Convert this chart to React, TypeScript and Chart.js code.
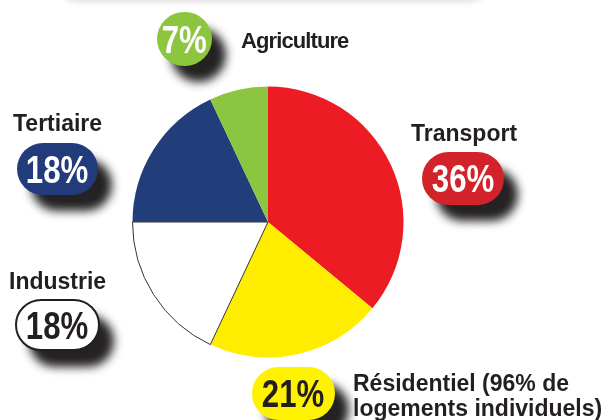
import React, { useEffect, useRef } from "react";
import { Chart, registerables } from "chart.js";

Chart.register(...registerables);

const categories = ["Transport", "Résidentiel (96% de logements individuels)", "Industrie", "Tertiaire", "Agriculture"];
const shares = [36, 21, 18, 18, 7];
const sliceColors = ["#ED1C24", "#FFED00", "#FFFFFF", "#213D7A", "#8CC540"];
const percentLabels = ["36%", "21%", "18%", "18%", "7%"];

const sans = '"Liberation Sans", Arial, Helvetica, sans-serif';

type BadgeProps = { left: number; top: number; w: number; h: number; bg: string; color: string; border?: string; text: string };

function Badge({ left, top, w, h, bg, color, border, text }: BadgeProps) {
  return (
    <div
      style={{
        position: "absolute",
        left,
        top,
        width: w,
        height: h,
        boxSizing: "border-box",
        borderRadius: h / 2,
        background: bg,
        border: border || "none",
        boxShadow: "14px 16px 10px rgba(25,22,23,0.95)",
        display: "flex",
        alignItems: "center",
        justifyContent: "center",
        color,
      }}
    >
      <span
        style={{
          display: "inline-block",
          fontFamily: sans,
          fontWeight: 700,
          fontSize: 39,
          lineHeight: 1,
          transform: "scaleX(0.8)",
          whiteSpace: "nowrap",
        }}
      >
        {text}
      </span>
    </div>
  );
}

function Label({ left, top, size, spacing, children }: { left: number; top: number; size: number; spacing?: number; children: React.ReactNode }) {
  return (
    <div
      style={{
        position: "absolute",
        left,
        top,
        fontFamily: sans,
        fontWeight: 700,
        fontSize: size,
        letterSpacing: spacing || 0,
        lineHeight: "25px",
        color: "#231F20",
        whiteSpace: "nowrap",
      }}
    >
      {children}
    </div>
  );
}

export default function App() {
  const ref = useRef<HTMLCanvasElement | null>(null);

  useEffect(() => {
    if (!ref.current) return;
    const chart = new Chart(ref.current, {
      type: "pie",
      data: {
        labels: categories,
        datasets: [
          {
            data: shares,
            backgroundColor: sliceColors,
            borderColor: ["#ED1C24", "#FFED00", "#333333", "#213D7A", "#8CC540"],
            borderWidth: [0, 0, 1, 0, 0],
          },
        ],
      },
      options: {
        responsive: false,
        animation: false,
        layout: { padding: { left: 132, top: 86, right: 198, bottom: 62 } },
        plugins: { legend: { display: false }, tooltip: { enabled: false } },
      },
    });
    return () => chart.destroy();
  }, []);

  return (
    <div style={{ position: "absolute", left: 0, top: 0, width: 602, height: 420, overflow: "hidden", background: "#fff" }}>
      <div
        style={{
          position: "absolute",
          left: 58,
          top: -40,
          width: 430,
          height: 40,
          borderRadius: 20,
          background: "#fff",
          boxShadow: "0 2px 6px rgba(0,0,0,0.13)",
        }}
      />
      <canvas ref={ref} width={602} height={420} style={{ position: "absolute", left: 0, top: 0 }} />
      <Badge left={157} top={12} w={55} h={54} bg="#8CC63F" color="#fff" text={percentLabels[4]} />
      <Label left={241} top={28} size={22} spacing={-0.9}>Agriculture</Label>
      <Label left={13} top={111} size={23}>Tertiaire</Label>
      <Badge left={17} top={143} w={81} h={52} bg="#223C7B" color="#fff" text={percentLabels[3]} />
      <Label left={9} top={269} size={23}>Industrie</Label>
      <Badge left={15} top={299} w={85} h={52} bg="#fff" color="#231F20" border="2px solid #231F20" text={percentLabels[2]} />
      <Label left={411} top={121} size={23}>Transport</Label>
      <Badge left={422} top={152} w={82} h={53} bg="#D2232A" color="#fff" text={percentLabels[0]} />
      <Badge left={252} top={367} w={83} h={53} bg="#FFF200" color="#231F20" text={percentLabels[1]} />
      <Label left={353} top={371} size={23}>
        Résidentiel (96% de
        <br />
        logements individuels)
      </Label>
    </div>
  );
}
